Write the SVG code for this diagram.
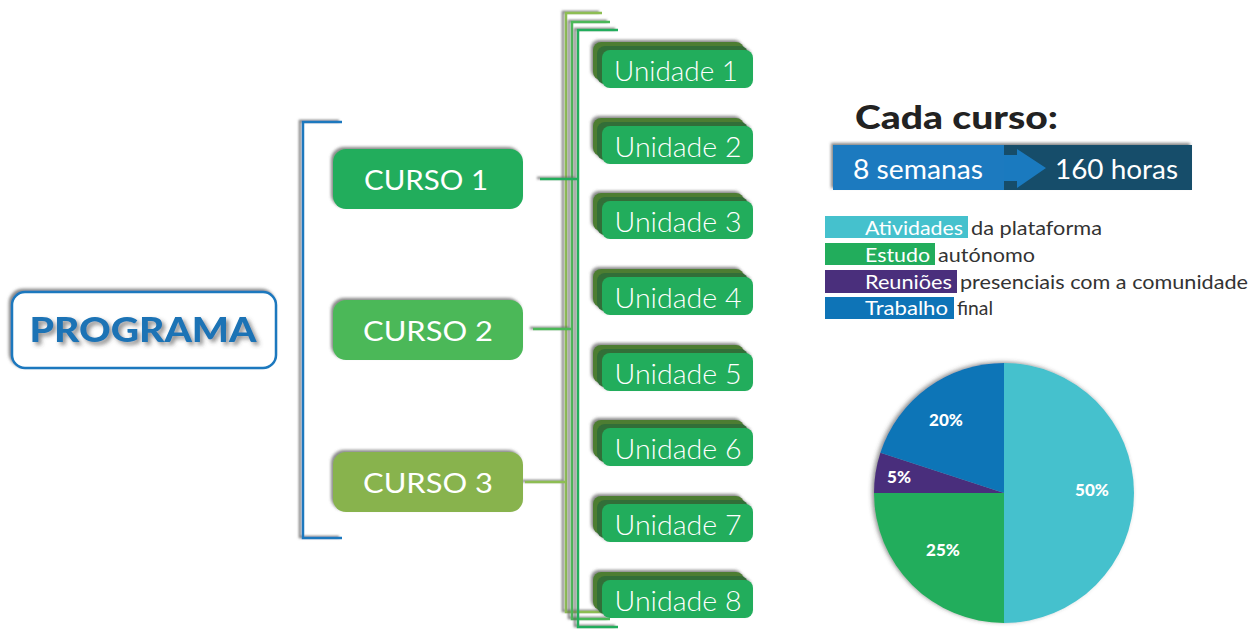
<svg xmlns="http://www.w3.org/2000/svg" width="1260" height="629" viewBox="0 0 1260 629">
<defs>
<filter id="sh" x="-20%" y="-20%" width="140%" height="140%">
<feDropShadow dx="-2" dy="-2" stdDeviation="1.5" flood-color="#555" flood-opacity="0.7"/>
</filter>
<filter id="lsh" filterUnits="userSpaceOnUse" x="0" y="0" width="1260" height="629">
<feDropShadow dx="-3" dy="-1" stdDeviation="0.8" flood-color="#666" flood-opacity="0.8"/>
</filter>
<filter id="tsh" x="-10%" y="-20%" width="120%" height="150%">
<feDropShadow dx="3" dy="3" stdDeviation="2" flood-color="#444" flood-opacity="0.6"/>
</filter>
<filter id="psh" x="-10%" y="-10%" width="120%" height="120%">
<feDropShadow dx="-2" dy="-1" stdDeviation="2" flood-color="#444" flood-opacity="0.6"/>
</filter>
<g id="unit">
<rect x="-9" y="-8" width="151" height="38" rx="8" fill="#4e7d33"/>
<rect x="-5" y="-4" width="151" height="38" rx="8" fill="#336e37"/>
<rect x="0" y="0" width="151" height="38" rx="8" fill="#22ad5c"/>
</g>
</defs>
<style>
.ut{font-family:Lato,"Open Sans","Liberation Sans",sans-serif;font-weight:300;font-size:28px;fill:#fff;text-anchor:middle}
.ct{font-family:Lato,"Open Sans","Liberation Sans",sans-serif;font-weight:400;font-size:27px;fill:#fff;text-anchor:middle}
.lg{font-family:Lato,"Open Sans","Liberation Sans",sans-serif;font-weight:400;font-size:20px}
.pl{font-family:Lato,"Open Sans","Liberation Sans",sans-serif;font-weight:900;font-size:17px;fill:#fff;text-anchor:middle}
.ln{fill:none;stroke-width:2.5;stroke-linecap:butt}
</style>
<rect width="1260" height="629" fill="#fff"/>

<g id="connectors">
<path class="ln" d="M342,122 H303 V538 H342" stroke="#1a78be" stroke-width="3" filter="url(#lsh)"/>
<path class="ln" d="M602,13 H566 V612 H602" stroke="#8dbd52" filter="url(#lsh)"/>
<path class="ln" d="M610,22 H572 V619 H610" stroke="#4cb859" filter="url(#lsh)"/>
<path class="ln" d="M618,30 H578 V627 H618" stroke="#22ad5c" filter="url(#lsh)"/>
<path class="ln" d="M540,179 H578" stroke="#22ad5c" filter="url(#lsh)"/>
<path class="ln" d="M533,329 H572" stroke="#4cb859" filter="url(#lsh)"/>
<path class="ln" d="M525,482 H566" stroke="#8dbd52" filter="url(#lsh)"/>
</g>

<g id="programa">
<rect x="12" y="292" width="264" height="76" rx="13" fill="#fff" stroke="#1a78be" stroke-width="2.5" filter="url(#sh)"/>
<text x="143" y="342" font-family="Lato,'Open Sans','Liberation Sans',sans-serif" font-weight="900" font-size="35" fill="#1a73b5" text-anchor="middle" textLength="227" lengthAdjust="spacingAndGlyphs" filter="url(#tsh)">PROGRAMA</text>
</g>

<g id="curso1">
<rect x="333" y="149" width="190" height="60" rx="13" fill="#22ad5c" filter="url(#sh)"/>
<text class="ct" x="426" y="190" textLength="124" lengthAdjust="spacingAndGlyphs">CURSO 1</text>
</g>
<g id="curso2">
<rect x="333" y="300" width="190" height="60" rx="13" fill="#4cb859" filter="url(#sh)"/>
<text class="ct" x="428" y="341" textLength="130" lengthAdjust="spacingAndGlyphs">CURSO 2</text>
</g>
<g id="curso3">
<rect x="333" y="452" width="190" height="60" rx="13" fill="#88b34d" filter="url(#sh)"/>
<text class="ct" x="428" y="493" textLength="130" lengthAdjust="spacingAndGlyphs">CURSO 3</text>
</g>

<g id="unidade1" transform="translate(602,50)"><use href="#unit" filter="url(#sh)"/><text class="ut" x="74" y="31" textLength="124" lengthAdjust="spacingAndGlyphs">Unidade 1</text></g>
<g id="unidade2" transform="translate(602,126)"><use href="#unit" filter="url(#sh)"/><text class="ut" x="76" y="31" textLength="127" lengthAdjust="spacingAndGlyphs">Unidade 2</text></g>
<g id="unidade3" transform="translate(602,201)"><use href="#unit" filter="url(#sh)"/><text class="ut" x="76" y="31" textLength="127" lengthAdjust="spacingAndGlyphs">Unidade 3</text></g>
<g id="unidade4" transform="translate(602,277)"><use href="#unit" filter="url(#sh)"/><text class="ut" x="76" y="31" textLength="127" lengthAdjust="spacingAndGlyphs">Unidade 4</text></g>
<g id="unidade5" transform="translate(602,353)"><use href="#unit" filter="url(#sh)"/><text class="ut" x="76" y="31" textLength="127" lengthAdjust="spacingAndGlyphs">Unidade 5</text></g>
<g id="unidade6" transform="translate(602,428)"><use href="#unit" filter="url(#sh)"/><text class="ut" x="76" y="31" textLength="127" lengthAdjust="spacingAndGlyphs">Unidade 6</text></g>
<g id="unidade7" transform="translate(602,504)"><use href="#unit" filter="url(#sh)"/><text class="ut" x="76" y="31" textLength="127" lengthAdjust="spacingAndGlyphs">Unidade 7</text></g>
<g id="unidade8" transform="translate(602,580)"><use href="#unit" filter="url(#sh)"/><text class="ut" x="76" y="31" textLength="127" lengthAdjust="spacingAndGlyphs">Unidade 8</text></g>

<g id="cada-curso">
<text x="855" y="129" font-family="Lato,'Open Sans','Liberation Sans',sans-serif" font-weight="900" font-size="32" fill="#222" textLength="203" lengthAdjust="spacingAndGlyphs">Cada curso:</text>
<g filter="url(#sh)">
<rect x="833" y="145" width="171" height="45" fill="#1a7abf"/>
<rect x="1004" y="145" width="188" height="45" fill="#174e6b"/>
</g>
<polygon points="1004,155 1017,155 1017,149 1046,168 1017,188 1017,181 1004,181" fill="#1a7abf"/>
<text x="853" y="179" font-family="Lato,'Open Sans','Liberation Sans',sans-serif" font-weight="400" font-size="26" fill="#fff" textLength="130" lengthAdjust="spacingAndGlyphs">8 semanas</text>
<text x="1055" y="179" font-family="Lato,'Open Sans','Liberation Sans',sans-serif" font-weight="400" font-size="26" fill="#fff" textLength="123" lengthAdjust="spacingAndGlyphs">160 horas</text>
</g>

<g id="legend">
<rect x="825" y="216" width="143" height="22" fill="#45c1cd"/>
<text class="lg" x="865" y="235" fill="#fff" textLength="98" lengthAdjust="spacingAndGlyphs">Atividades</text>
<text class="lg" x="971" y="235" fill="#333" textLength="131" lengthAdjust="spacingAndGlyphs">da plataforma</text>
<rect x="825" y="243" width="110" height="22" fill="#22ad5c"/>
<text class="lg" x="865" y="262" fill="#fff" textLength="65" lengthAdjust="spacingAndGlyphs">Estudo</text>
<text class="lg" x="938" y="262" fill="#333" textLength="97" lengthAdjust="spacingAndGlyphs">autónomo</text>
<rect x="825" y="270" width="132" height="23" fill="#4a2f7c"/>
<text class="lg" x="865" y="289" fill="#fff" textLength="87" lengthAdjust="spacingAndGlyphs">Reuniões</text>
<text class="lg" x="960" y="289" fill="#333" textLength="288" lengthAdjust="spacingAndGlyphs">presenciais com a comunidade</text>
<rect x="825" y="297" width="129" height="22" fill="#0e74b7"/>
<text class="lg" x="865" y="315" fill="#fff" textLength="83" lengthAdjust="spacingAndGlyphs">Trabalho</text>
<text class="lg" x="957" y="315" fill="#333" textLength="36" lengthAdjust="spacingAndGlyphs">final</text>
</g>

<g id="pie">
<g filter="url(#psh)">
<path d="M1004,493 L1004,363 A130,130 0 0 1 1004,623 Z" fill="#45c1cd"/>
<path d="M1004,493 L1004,623 A130,130 0 0 1 874,493 Z" fill="#22ad5c"/>
<path d="M1004,493 L874,493 A130,130 0 0 1 880.4,452.8 Z" fill="#4a2f7c"/>
<path d="M1004,493 L880.4,452.8 A130,130 0 0 1 1004,363 Z" fill="#0e74b7"/>
</g>
<text class="pl" x="1092" y="496">50%</text>
<text class="pl" x="943" y="556">25%</text>
<text class="pl" x="899" y="483">5%</text>
<text class="pl" x="946" y="426">20%</text>
</g>
</svg>
